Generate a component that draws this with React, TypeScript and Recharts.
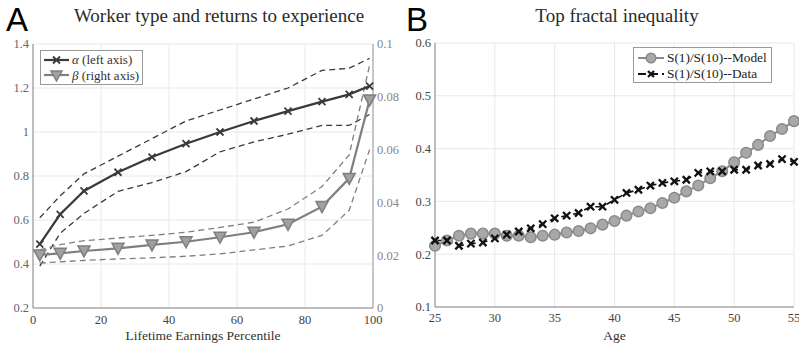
import React from "react";
import { LineChart, Line, XAxis, YAxis, CartesianGrid } from "recharts";

// Panel A: percentile grid and estimates
const PCT = [2, 8, 15, 25, 35, 45, 55, 65, 75, 85, 93, 99];
const ALPHA = [0.49, 0.626, 0.732, 0.817, 0.886, 0.947, 1.0, 1.05, 1.095, 1.138, 1.171, 1.209];
const ALPHA_HI = [0.61, 0.71, 0.81, 0.89, 0.97, 1.05, 1.1, 1.15, 1.2, 1.28, 1.29, 1.335];
const ALPHA_LO = [0.39, 0.54, 0.63, 0.73, 0.77, 0.82, 0.91, 0.955, 0.99, 1.03, 1.03, 1.08];
const BETA = [0.0201, 0.0207, 0.0216, 0.0226, 0.0239, 0.0251, 0.0268, 0.0287, 0.0317, 0.0384, 0.0491, 0.0788];
const BETA_HI = [0.022, 0.024, 0.0255, 0.0265, 0.0275, 0.0287, 0.0305, 0.0325, 0.0375, 0.046, 0.058, 0.092];
const BETA_LO = [0.017, 0.0175, 0.018, 0.0186, 0.019, 0.0196, 0.0205, 0.022, 0.0235, 0.0275, 0.037, 0.06];
const A_XTICKS = [0, 20, 40, 60, 80, 100];
const A_LTICKS = [0.2, 0.4, 0.6, 0.8, 1, 1.2, 1.4];
const A_RTICKS = [0, 0.02, 0.04, 0.06, 0.08, 0.1];

// Panel B: top fractal inequality by age
const AGES = [25, 26, 27, 28, 29, 30, 31, 32, 33, 34, 35, 36, 37, 38, 39, 40, 41, 42, 43, 44, 45, 46, 47, 48, 49, 50, 51, 52, 53, 54, 55];
const MODEL = [0.216, 0.226, 0.235, 0.239, 0.239, 0.239, 0.235, 0.235, 0.232, 0.235, 0.237, 0.241, 0.244, 0.249, 0.256, 0.263, 0.273, 0.281, 0.287, 0.297, 0.307, 0.319, 0.33, 0.344, 0.357, 0.374, 0.392, 0.407, 0.424, 0.437, 0.452];
const DATA = [0.226, 0.226, 0.216, 0.22, 0.222, 0.23, 0.237, 0.243, 0.249, 0.257, 0.268, 0.273, 0.278, 0.29, 0.29, 0.303, 0.316, 0.322, 0.33, 0.335, 0.338, 0.341, 0.354, 0.357, 0.357, 0.36, 0.36, 0.368, 0.371, 0.38, 0.375];
const B_XTICKS = [25, 30, 35, 40, 45, 50, 55];
const B_YTICKS = [0.1, 0.2, 0.3, 0.4, 0.5, 0.6];

const dataA = PCT.map((p, i) => ({
  p, alpha: ALPHA[i], alphaHi: ALPHA_HI[i], alphaLo: ALPHA_LO[i],
  beta: BETA[i], betaHi: BETA_HI[i], betaLo: BETA_LO[i],
}));
const dataB = AGES.map((age, i) => ({ age, model: MODEL[i], data: DATA[i] }));

const SERIF = "'Liberation Serif', 'DejaVu Serif', serif";
const SANS = "'Liberation Sans', Arial, sans-serif";
const DARK = "#3a3a3a";
const MID = "#7f7f7f";

const Cross = (color: string, s: number, w: number) => (props: any) => {
  const { cx, cy, index } = props;
  if (cx == null || cy == null) return null;
  return (
    <g key={index}>
      <line x1={cx - s} y1={cy - s} x2={cx + s} y2={cy + s} stroke={color} strokeWidth={w} />
      <line x1={cx - s} y1={cy + s} x2={cx + s} y2={cy - s} stroke={color} strokeWidth={w} />
    </g>
  );
};

const TriDown = (props: any) => {
  const { cx, cy, index } = props;
  if (cx == null || cy == null) return null;
  return (
    <polygon key={index} points={`${cx - 6},${cy - 5} ${cx + 6},${cy - 5} ${cx},${cy + 6}`}
      fill="#a0a0a0" stroke={MID} strokeWidth={1.5} />
  );
};

const Circ = (props: any) => {
  const { cx, cy, index } = props;
  if (cx == null || cy == null) return null;
  return <circle key={index} cx={cx} cy={cy} r={5.3} fill="#a8a8a8" stroke="#8a8a8a" strokeWidth={1.5} />;
};

const tickStyle = (fill: string) => ({ fontFamily: SERIF, fontSize: 12.5, fill });
const fmt = (v: number) => String(+v.toFixed(2));

function PanelA() {
  return (
    <div style={{ position: "absolute", left: 0, top: 0, width: 405, height: 343 }}>
      <LineChart width={405} height={343} data={dataA} margin={{ top: 44, right: 5, left: 0, bottom: 0 }}>
        <CartesianGrid yAxisId="left" stroke="#e8e8e8" />
        <XAxis dataKey="p" type="number" domain={[0, 100]} ticks={A_XTICKS} height={35}
          tick={tickStyle("#444")} tickLine={false} axisLine={{ stroke: "#888" }} tickSize={3} tickMargin={4}
          label={{ value: "Lifetime Earnings Percentile", position: "insideBottom", offset: 3, style: { fontFamily: SERIF, fontSize: 13.5, fill: "#333" } }} />
        <XAxis xAxisId="top" dataKey="p" type="number" domain={[0, 100]} orientation="top" height={0}
          tick={false} tickLine={false} axisLine={{ stroke: "#aaa" }} />
        <YAxis yAxisId="left" type="number" domain={[0.2, 1.4]} ticks={A_LTICKS} width={33}
          tick={tickStyle("#666")} tickLine={false} axisLine={{ stroke: "#888" }} tickFormatter={fmt} interval={0} tickSize={2} />
        <YAxis yAxisId="right" orientation="right" type="number" domain={[0, 0.1]} ticks={A_RTICKS} width={27}
          tick={tickStyle("#888")} tickLine={false} axisLine={{ stroke: "#999" }} tickFormatter={fmt} interval={0} tickSize={2} />
        <Line yAxisId="left" dataKey="alphaHi" stroke={DARK} strokeWidth={1.3} strokeDasharray="6 4" dot={false} isAnimationActive={false} />
        <Line yAxisId="left" dataKey="alphaLo" stroke={DARK} strokeWidth={1.3} strokeDasharray="6 4" dot={false} isAnimationActive={false} />
        <Line yAxisId="right" dataKey="betaHi" stroke={MID} strokeWidth={1.3} strokeDasharray="6 4" dot={false} isAnimationActive={false} />
        <Line yAxisId="right" dataKey="betaLo" stroke={MID} strokeWidth={1.3} strokeDasharray="6 4" dot={false} isAnimationActive={false} />
        <Line yAxisId="left" dataKey="alpha" stroke={DARK} strokeWidth={2.2} dot={Cross(DARK, 3.5, 1.8)} isAnimationActive={false} />
        <Line yAxisId="right" dataKey="beta" stroke={MID} strokeWidth={2.2} dot={TriDown} isAnimationActive={false} />
      </LineChart>
      <div style={{ position: "absolute", left: 6, top: 7, fontFamily: SANS, fontSize: 33, color: "#000", lineHeight: "26px" }}>A</div>
      <div style={{ position: "absolute", left: 40, width: 358, top: 5, textAlign: "center", fontFamily: SERIF, fontSize: 19, color: "#2a2a2a" }}>
        Worker type and returns to experience
      </div>
      {/* Legend */}
      <div style={{ position: "absolute", left: 40, top: 50, width: 103, height: 35, border: "1px solid #999", background: "#fff", fontFamily: SERIF, fontSize: 13, color: "#333", boxSizing: "border-box" }}>
        <div style={{ display: "flex", alignItems: "center", height: 16, marginTop: 1 }}>
          <svg width={27} height={12} style={{ marginLeft: 2 }}>
            <line x1={1} y1={6} x2={26} y2={6} stroke={DARK} strokeWidth={2.2} />
            <line x1={10} y1={2.5} x2={17} y2={9.5} stroke={DARK} strokeWidth={1.8} />
            <line x1={10} y1={9.5} x2={17} y2={2.5} stroke={DARK} strokeWidth={1.8} />
          </svg>
          <span style={{ marginLeft: 2, whiteSpace: "nowrap" }}><i>α</i> (left axis)</span>
        </div>
        <div style={{ display: "flex", alignItems: "center", height: 16 }}>
          <svg width={27} height={12} style={{ marginLeft: 2 }}>
            <line x1={1} y1={5} x2={26} y2={5} stroke={MID} strokeWidth={2.2} />
            <polygon points="8,1 19,1 13.5,11" fill="#a0a0a0" stroke={MID} strokeWidth={1.5} />
          </svg>
          <span style={{ marginLeft: 2, whiteSpace: "nowrap" }}><i>β</i> (right axis)</span>
        </div>
      </div>
    </div>
  );
}

function PanelB() {
  return (
    <div style={{ position: "absolute", left: 400, top: 0, width: 399, height: 343 }}>
      <LineChart width={399} height={343} data={dataB} margin={{ top: 43, right: 5, left: 0, bottom: 0 }}>
        <CartesianGrid stroke="#e8e8e8" />
        <XAxis dataKey="age" type="number" domain={[25, 55]} ticks={B_XTICKS} height={36}
          tick={tickStyle("#444")} tickLine={false} axisLine={{ stroke: "#888" }} tickSize={3} tickMargin={3} interval={0}
          label={{ value: "Age", position: "insideBottom", offset: 3, style: { fontFamily: SERIF, fontSize: 13.5, fill: "#333" } }} />
        <XAxis xAxisId="top" dataKey="age" type="number" domain={[25, 55]} orientation="top" height={0}
          tick={false} tickLine={false} axisLine={{ stroke: "#aaa" }} />
        <YAxis type="number" domain={[0.1, 0.6]} ticks={B_YTICKS} width={35}
          tick={tickStyle("#444")} tickLine={false} axisLine={{ stroke: "#888" }} tickFormatter={fmt} interval={0} tickSize={2} />
        <YAxis yAxisId="r" orientation="right" type="number" domain={[0.1, 0.6]} width={0}
          tick={false} tickLine={false} axisLine={{ stroke: "#aaa" }} />
        <Line dataKey="model" stroke="#8a8a8a" strokeWidth={2} dot={Circ} isAnimationActive={false} />
        <Line dataKey="data" stroke="#111" strokeWidth={1.6} strokeDasharray="6 6" dot={Cross("#111", 3.6, 2.3)} isAnimationActive={false} />
      </LineChart>
      <div style={{ position: "absolute", left: 6, top: 7, fontFamily: SANS, fontSize: 33, color: "#000", lineHeight: "26px" }}>B</div>
      <div style={{ position: "absolute", left: 35, width: 364, top: 5, textAlign: "center", fontFamily: SERIF, fontSize: 19, color: "#2a2a2a" }}>
        Top fractal inequality
      </div>
      <div style={{ position: "absolute", left: 233, top: 47, width: 139, height: 36, border: "1px solid #999", background: "#fff", fontFamily: SERIF, fontSize: 13.3, color: "#222", boxSizing: "border-box" }}>
        <div style={{ display: "flex", alignItems: "center", height: 17, marginTop: 1 }}>
          <svg width={30} height={12} style={{ marginLeft: 2 }}>
            <line x1={2} y1={6} x2={28} y2={6} stroke="#8a8a8a" strokeWidth={2} />
            <circle cx={15} cy={6} r={4.8} fill="#a8a8a8" stroke="#8a8a8a" strokeWidth={1.5} />
          </svg>
          <span style={{ marginLeft: 1, whiteSpace: "nowrap" }}>S(1)/S(10)--Model</span>
        </div>
        <div style={{ display: "flex", alignItems: "center", height: 16 }}>
          <svg width={30} height={12} style={{ marginLeft: 2 }}>
            <line x1={2} y1={6} x2={28} y2={6} stroke="#111" strokeWidth={1.8} strokeDasharray="8 4" />
            <line x1={12} y1={3} x2={18} y2={9} stroke="#111" strokeWidth={2.2} />
            <line x1={12} y1={9} x2={18} y2={3} stroke="#111" strokeWidth={2.2} />
          </svg>
          <span style={{ marginLeft: 1, whiteSpace: "nowrap" }}>S(1)/S(10)--Data</span>
        </div>
      </div>
    </div>
  );
}

export default function App() {
  return (
    <div style={{ position: "absolute", left: 0, top: 0, width: 799, height: 343, background: "#fff", overflow: "hidden" }}>
      <PanelA />
      <PanelB />
    </div>
  );
}
